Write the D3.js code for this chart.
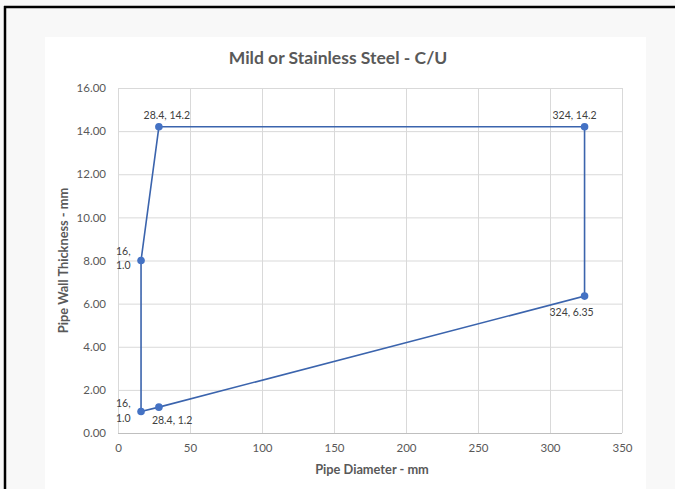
<!DOCTYPE html>
<html><head><meta charset="utf-8">
<script src="https://cdn.jsdelivr.net/npm/d3@7"></script>
<style>html,body{margin:0;padding:0;background:#fff;}svg{display:block;}</style>
</head><body>
<script>
const xValues = [16, 16, 28.4, 324, 324, 28.4, 16];
const yValues = [1.0, 8.0, 14.2, 14.2, 6.35, 1.2, 1.0];
const xTicks = [0, 50, 100, 150, 200, 250, 300, 350];
const yTicks = [0, 2, 4, 6, 8, 10, 12, 14, 16];
const title = "Mild or Stainless Steel - C/U";
const xTitle = "Pipe Diameter - mm";
const yTitle = "Pipe Wall Thickness - mm";

const W = 675, H = 489;
const svg = d3.select("body").append("svg").attr("width", W).attr("height", H);
svg.append("rect").attr("width", W).attr("height", H).attr("fill", "#f8f8f8");
svg.append("rect").attr("x", 45).attr("y", 37).attr("width", 601).attr("height", H - 37).attr("fill", "#fff");
// frame
svg.append("line").attr("x1", 4).attr("x2", W).attr("y1", 7).attr("y2", 7).attr("stroke", "#000").attr("stroke-width", 2.5);
svg.append("line").attr("x1", 5).attr("x2", 5).attr("y1", 6).attr("y2", H).attr("stroke", "#000").attr("stroke-width", 2.5);

const x = d3.scaleLinear().domain([0, 350]).range([118, 622]);
const y = d3.scaleLinear().domain([0, 16]).range([433, 88]);
const font = "Lato, 'Open Sans', sans-serif";
const grey = "#595959";

// gridlines
svg.append("g").selectAll("line.h").data(yTicks).join("line")
  .attr("x1", x(0)).attr("x2", x(350)).attr("y1", d => y(d) + 0.5).attr("y2", d => y(d) + 0.5)
  .attr("stroke", d => d === 0 ? "#bfbfbf" : "#d9d9d9").attr("stroke-width", 1);
svg.append("g").selectAll("line.v").data(xTicks).join("line")
  .attr("x1", d => x(d) + 0.5).attr("x2", d => x(d) + 0.5).attr("y1", y(0)).attr("y2", y(16))
  .attr("stroke", "#d9d9d9").attr("stroke-width", 1);

// axes labels via d3 axes
const xAxis = d3.axisBottom(x).tickValues(xTicks).tickSize(0).tickPadding(11).tickFormat(d3.format("d"));
const gx = svg.append("g").attr("transform", `translate(0,${y(0)})`).call(xAxis);
gx.select(".domain").remove();
gx.selectAll("text").attr("font-family", font).attr("font-size", 11.5).attr("fill", grey);

const yAxis = d3.axisLeft(y).tickValues(yTicks).tickSize(0).tickPadding(12).tickFormat(d3.format(".2f"));
const gy = svg.append("g").attr("transform", `translate(${x(0)},0)`).call(yAxis);
gy.select(".domain").remove();
gy.selectAll("text").attr("font-family", font).attr("font-size", 11.5).attr("fill", grey);

// titles
svg.append("text").attr("x", 338).attr("y", 64).attr("text-anchor", "middle")
  .attr("font-family", font).attr("font-size", 17.5).attr("font-weight", 700).attr("fill", grey).text(title);
svg.append("text").attr("x", 372).attr("y", 474).attr("text-anchor", "middle")
  .attr("font-family", font).attr("font-size", 12.8).attr("font-weight", 700).attr("fill", grey).text(xTitle);
svg.append("text").attr("transform", `translate(68,${(y(0) + y(16)) / 2}) rotate(-90)`).attr("text-anchor", "middle")
  .attr("font-family", font).attr("font-size", 12.8).attr("font-weight", 700).attr("fill", grey).text(yTitle);

// line
const pts = xValues.map((d, i) => [d, yValues[i]]);
svg.append("path").datum(pts)
  .attr("d", d3.line().x(d => x(d[0])).y(d => y(d[1])))
  .attr("fill", "none").attr("stroke", "#3b64ad").attr("stroke-width", 1.6);
svg.append("g").selectAll("circle").data(pts.slice(0, 6)).join("circle")
  .attr("cx", d => x(d[0])).attr("cy", d => y(d[1])).attr("r", 3.8).attr("fill", "#4472c4");

// data labels
const labelSpec = [
  {p: 1, lines: ["16,", "1.0"], dx: -25, dy: -6, anchor: "start"},
  {p: 2, lines: ["28.4, 14.2"], dx: 8, dy: -8, anchor: "middle"},
  {p: 3, lines: ["324, 14.2"], dx: -10, dy: -8, anchor: "middle"},
  {p: 4, lines: ["324, 6.35"], dx: -13, dy: 20, anchor: "middle"},
  {p: 5, lines: ["28.4, 1.2"], dx: -7, dy: 17, anchor: "start"},
  {p: 0, lines: ["16,", "1.0"], dx: -25, dy: -4, anchor: "start"}
];
const lg = svg.append("g");
labelSpec.forEach(s => {
  const t = lg.append("text").attr("font-family", font).attr("font-size", 10.5).attr("fill", "#404040")
    .attr("text-anchor", s.anchor);
  s.lines.forEach((ln, i) => {
    t.append("tspan").attr("x", x(xValues[s.p]) + s.dx).attr("y", y(yValues[s.p]) + s.dy + i * 14.5).text(ln);
  });
});
</script>
</body></html>
